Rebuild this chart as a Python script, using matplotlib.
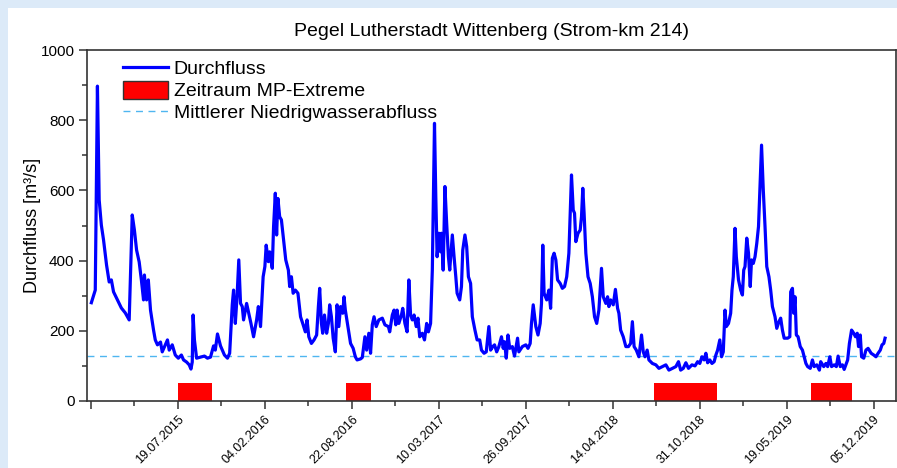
import numpy as np
import pandas as pd
import matplotlib
matplotlib.use("Agg")
import matplotlib.pyplot as plt
from matplotlib.patches import Patch, Rectangle
from matplotlib.lines import Line2D

plt.rcParams["font.family"] = ["Liberation Sans", "DejaVu Sans"]

START = pd.Timestamp("2015-01-01")

# Durchfluss: Tage seit 01.01.2015 -> m3/s
day_2015 = [0, 9, 14, 18, 23, 28, 35, 41, 46, 51, 60, 69, 78, 87, 94, 99, 104, 110, 115, 120,
            122, 127, 131, 136, 143, 147, 152, 159, 163, 170, 175, 179, 186, 193, 200, 207, 212, 219, 225, 229,
            232, 234, 237, 242, 251, 260, 267, 274, 281, 285, 290, 297, 306, 313, 318, 324, 327, 331, 335, 339,
            343, 347, 350, 357, 362]
q_2015 = [280, 316, 897, 573, 501, 459, 387, 339, 345, 311, 288, 265, 251, 231, 530, 487, 430, 396, 345, 288,
          359, 288, 345, 259, 202, 174, 160, 168, 140, 160, 174, 145, 160, 131, 122, 131, 117, 111, 103, 91,
          111, 245, 174, 122, 125, 128, 122, 125, 157, 145, 191, 157, 131, 122, 136, 274, 316, 221, 297, 402,
          278, 269, 231, 278, 250]

day_2016 = [367, 373, 380, 384, 389, 395, 399, 402, 407, 410, 416, 419, 423, 426, 429, 433, 437, 443, 447, 453,
            456, 460, 464, 469, 475, 481, 486, 492, 496, 500, 506, 512, 518, 522, 525, 529, 532, 536, 541, 545,
            548, 552, 556, 561, 565, 569, 573, 578, 581, 584, 590, 596, 602, 607, 611, 619, 623, 629, 633, 638,
            642, 646, 650, 655, 661, 669, 675, 683, 686, 692, 696, 700, 703, 707, 713, 716, 721, 726]
q_2016 = [221, 183, 231, 269, 212, 354, 383, 444, 397, 425, 378, 497, 592, 473, 577, 525, 516, 449, 402, 373,
          326, 354, 307, 316, 307, 240, 221, 197, 231, 183, 164, 174, 188, 269, 321, 221, 193, 245, 193, 221,
          274, 240, 179, 140, 274, 212, 269, 250, 297, 259, 212, 164, 150, 126, 117, 120, 124, 183, 145, 193,
          136, 217, 240, 212, 231, 236, 217, 212, 197, 245, 259, 217, 259, 221, 245, 264, 221, 197]

day_2017 = [730, 734, 738, 742, 747, 751, 755, 761, 766, 771, 775, 780, 784, 789, 792, 795, 799, 803, 805, 809,
            813, 817, 821, 824, 830, 834, 838, 841, 847, 851, 854, 859, 863, 867, 872, 876, 882, 887, 893, 897,
            903, 908, 914, 918, 923, 927, 932, 937, 943, 947, 950, 954, 958, 962, 968, 973, 980, 983, 991, 999,
            1004, 1009, 1012, 1016, 1022, 1027, 1032, 1035, 1038, 1041, 1047, 1052, 1056, 1060, 1064, 1068,
            1072, 1078, 1083, 1088, 1093]
q_2017 = [345, 245, 231, 245, 212, 236, 183, 193, 174, 221, 197, 221, 373, 791, 582, 411, 478, 425, 478, 373,
          611, 506, 411, 373, 473, 411, 354, 307, 288, 326, 430, 473, 440, 354, 335, 240, 202, 174, 174, 145,
          136, 140, 212, 145, 155, 160, 140, 155, 183, 150, 169, 122, 188, 150, 155, 128, 179, 140, 155, 160,
          150, 164, 221, 274, 212, 188, 221, 278, 444, 307, 288, 316, 264, 407, 421, 402,
          345, 335, 321, 326, 354]

day_2018 = [1098, 1104, 1108, 1111, 1114, 1119, 1124, 1127, 1130, 1133, 1137, 1142, 1147, 1152, 1157, 1162,
            1167, 1173, 1177, 1183, 1187, 1190, 1194, 1200, 1205, 1210, 1213, 1217, 1223, 1229, 1235, 1240,
            1244, 1248, 1253, 1259, 1265, 1269, 1273, 1278, 1282, 1290, 1298, 1305, 1313, 1321, 1328, 1336,
            1344, 1350, 1355, 1361, 1367, 1373, 1381, 1388, 1394, 1399, 1404, 1409, 1413, 1417, 1422, 1427,
            1432, 1436, 1440, 1445, 1449, 1453, 1457]
q_2018 = [421, 644, 544, 535, 454, 478, 487, 525, 606, 535, 421, 354, 335, 297, 240, 221,
          259, 378, 297, 278, 297, 269, 288, 274, 318, 264, 250, 202, 183, 155, 155, 164,
          226, 155, 145, 126, 188, 140, 126, 145, 117, 107, 103, 93, 98, 103, 88, 93,
          98, 112, 88, 93, 109, 93, 103, 100, 112, 107, 126, 117, 136, 109, 117, 107,
          112, 131, 145, 174, 126, 140, 259]

day_2019 = [1460, 1465, 1470, 1473, 1476, 1480, 1483, 1488, 1493, 1497, 1500, 1503, 1507, 1511, 1515, 1518,
            1522, 1526, 1530, 1534, 1537, 1541, 1545, 1549, 1553, 1558, 1562, 1566, 1572, 1576, 1581, 1585,
            1589, 1593, 1601, 1606, 1608, 1612, 1615, 1618, 1621, 1625, 1630, 1635, 1639, 1643, 1647, 1653,
            1658, 1662, 1668, 1674, 1677, 1684, 1689, 1693, 1698, 1702, 1708, 1713, 1717, 1722, 1727, 1731,
            1736, 1739, 1743, 1748, 1753, 1757, 1761, 1764, 1768, 1771, 1776, 1781, 1786, 1793, 1799, 1804,
            1809, 1814, 1818, 1822, 1825]
q_2019 = [212, 221, 250, 316, 354, 492, 411, 345, 316, 302, 373, 383, 464, 421, 326, 402,
          392, 411, 449, 497, 596, 729, 601, 497, 383, 354, 316, 269, 240, 207, 226, 236,
          202, 179, 179, 183, 311, 321, 250, 297, 188, 183, 155, 145, 126, 107, 98, 93,
          117, 98, 103, 88, 112, 98, 107, 98, 126, 98, 103, 98, 128, 98, 103, 90,
          107, 117, 164, 202, 193, 183, 193, 155, 188, 126, 122, 145, 150, 136, 131, 126,
          136, 145, 160, 164, 179]

# Zeitraeume MP-Extreme
mp_start = ["2015-07-19", "2016-08-08", "2018-07-17", "2019-07-13"]
mp_end   = ["2015-10-05", "2016-10-05", "2018-12-10", "2019-10-15"]
MP_HEIGHT = 50

MNQ = 129   # Mittlerer Niedrigwasserabfluss

tick_dates = pd.date_range("2014-12-31", periods=10, freq="200D")


days = day_2015 + day_2016 + day_2017 + day_2018 + day_2019
flow = q_2015 + q_2016 + q_2017 + q_2018 + q_2019
dates = START + pd.to_timedelta(days, unit="D")

fig = plt.figure(figsize=(8.97, 4.68), dpi=100, facecolor="#DCEAF8")
# weisses Panel (hellblauer Rand oben/links)
fig.add_artist(Rectangle((8 / 897, 0), 1, 1 - 8 / 468, transform=fig.transFigure,
                         facecolor="white", edgecolor="none", zorder=-10))
ax = fig.add_axes([87 / 897, 67 / 468, 808.5 / 897, 351 / 468])

# rote Balken
starts = pd.to_datetime(mp_start)
widths = pd.to_datetime(mp_end) - starts
ax.bar(starts, MP_HEIGHT, width=widths, align="edge", color="#FF0000",
       edgecolor="none", zorder=2)

ax.axhline(MNQ, color="#4FB6F0", linewidth=1.0, linestyle=(0, (5, 4)), zorder=2)
ax.plot(dates, flow, color="#0000FF", linewidth=2.3, zorder=3)

ax.set_xlim(pd.Timestamp("2014-12-22"), pd.Timestamp("2020-01-24"))
ax.set_ylim(0, 1000)

ax.set_xticks(tick_dates)
ax.set_xticklabels([""] + [d.strftime("%d.%m.%Y") for d in tick_dates[1:]],
                   rotation=45, ha="right", va="top", rotation_mode="anchor", fontsize=9)
ax.set_xticks(tick_dates[:-1] + pd.Timedelta(days=100), minor=True)
ax.set_yticks(np.arange(0, 1001, 200))
ax.set_yticks(np.arange(100, 1000, 200), minor=True)
ax.tick_params(axis="y", labelsize=11)
ax.tick_params(which="major", direction="out", length=5.5, width=1.1, color="#333333")
ax.tick_params(which="minor", direction="out", length=3.5, width=1.1, color="#333333")
for sp in ax.spines.values():
    sp.set_color("#333333")
    sp.set_linewidth(1.2)

ax.set_ylabel("Durchfluss [m³/s]", fontsize=13, labelpad=0)
ax.set_title("Pegel Lutherstadt Wittenberg (Strom-km 214)", fontsize=14, pad=10)

handles = [
    Line2D([], [], color="#0000FF", linewidth=2.3),
    Patch(facecolor="#FF0000", edgecolor="#333333", linewidth=1.0),
    Line2D([], [], color="#4FB6F0", linewidth=1.0, linestyle=(0, (5, 4))),
]
labels = ["Durchfluss", "Zeitraum MP-Extreme", "Mittlerer Niedrigwasserabfluss"]
ax.legend(handles, labels, loc="upper left", bbox_to_anchor=(36 / 808.5, 0.975),
          frameon=False, fontsize=14, borderpad=0, borderaxespad=0,
          handlelength=2.3, handleheight=1.05, handletextpad=0.3, labelspacing=0.12)

plt.savefig("out.png", dpi=100, facecolor=fig.get_facecolor())
